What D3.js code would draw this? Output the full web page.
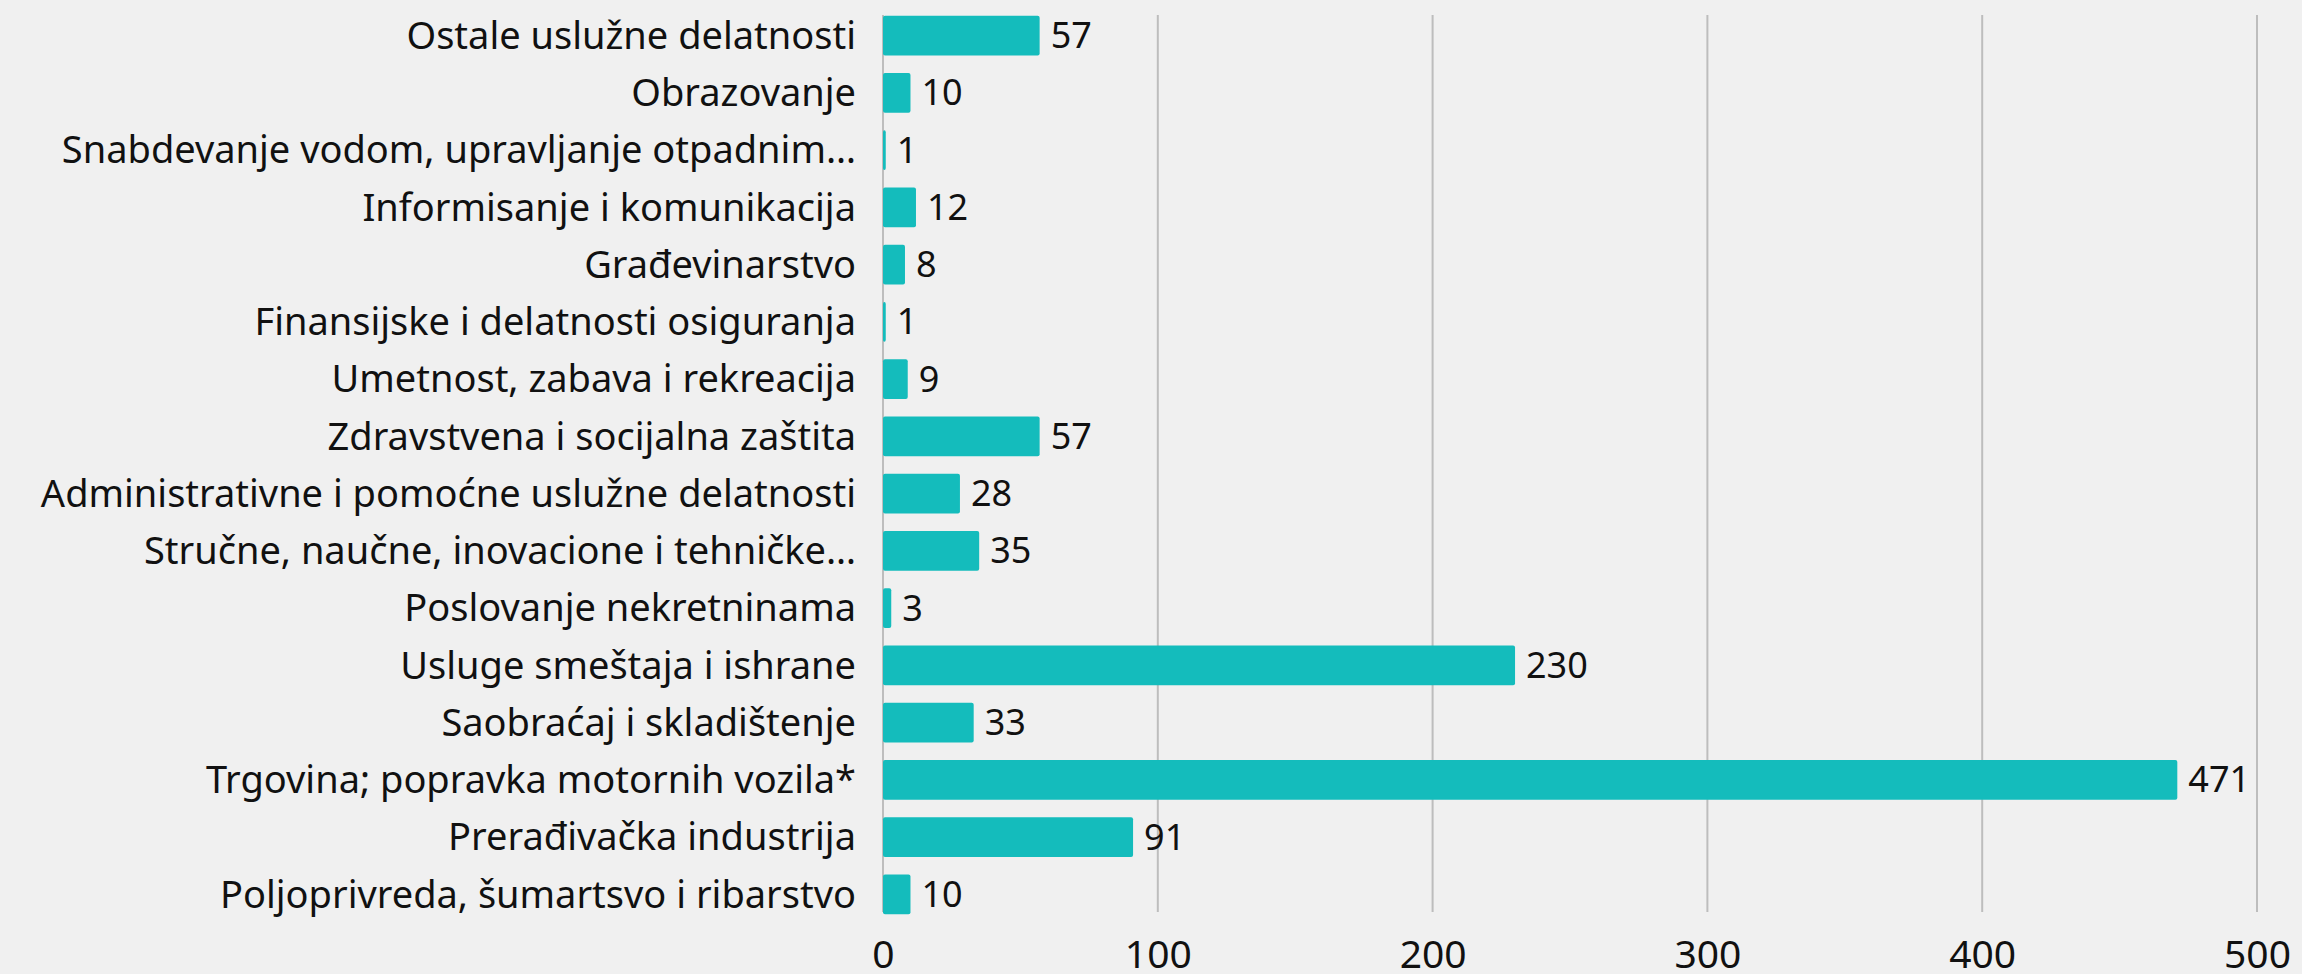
<!DOCTYPE html>
<html>
<head>
<meta charset="utf-8">
<script src="https://cdn.jsdelivr.net/npm/d3@7"></script>
<style>
  body { margin: 0; background: #f0f0f0; }
  text { font-family: "Noto Sans", sans-serif; fill: #111; }
</style>
</head>
<body>
<div id="chart-container"></div>
<script>
// Categories, top to bottom
const categories = [
    "Ostale uslužne delatnosti",
    "Obrazovanje",
    "Snabdevanje vodom, upravljanje otpadnim…",
    "Informisanje i komunikacija",
    "Građevinarstvo",
    "Finansijske i delatnosti osiguranja",
    "Umetnost, zabava i rekreacija",
    "Zdravstvena i socijalna zaštita",
    "Administrativne i pomoćne uslužne delatnosti",
    "Stručne, naučne, inovacione i tehničke…",
    "Poslovanje nekretninama",
    "Usluge smeštaja i ishrane",
    "Saobraćaj i skladištenje",
    "Trgovina; popravka motornih vozila*",
    "Prerađivačka industrija",
    "Poljoprivreda, šumartsvo i ribarstvo"
];

const values = [57, 10, 1, 12, 8, 1, 9, 57, 28, 35, 3, 230, 33, 471, 91, 10];

const xTicks = [0, 100, 200, 300, 400, 500];

const W = 2302, H = 974;
const plot = { left: 883, right: 2257, top: 7, bottom: 923, gridTop: 15, gridBottom: 912 };

function init() {
    const svg = d3.select("#chart-container")
        .append("svg")
        .attr("width", W)
        .attr("height", H);

    svg.append("rect")
        .attr("width", W)
        .attr("height", H)
        .attr("fill", "#f0f0f0");

    const xScale = d3.scaleLinear()
        .domain([0, 500])
        .range([plot.left, plot.right]);

    const yScale = d3.scaleBand()
        .domain(categories)
        .range([plot.top, plot.bottom])
        .paddingInner(0.31)
        .paddingOuter(0.155);

    // Vertical gridlines
    svg.append("g")
        .selectAll("line")
        .data(xTicks)
        .enter()
        .append("line")
        .attr("x1", d => xScale(d))
        .attr("x2", d => xScale(d))
        .attr("y1", plot.gridTop)
        .attr("y2", plot.gridBottom)
        .attr("stroke", "#bdbdbd")
        .attr("stroke-width", 2);

    // X axis labels
    const xAxis = d3.axisBottom(xScale)
        .tickValues(xTicks)
        .tickSize(0)
        .tickPadding(0)
        .tickFormat(d => d);

    const gx = svg.append("g")
        .attr("transform", `translate(0, ${plot.gridBottom})`)
        .call(xAxis);
    gx.select(".domain").remove();
    gx.selectAll("text")
        .attr("y", 56)
        .attr("dy", null)
        .style("font-size", "39px")
        .style("font-family", "'Noto Sans', sans-serif")
        .attr("fill", "#111");

    // Bars
    svg.selectAll("rect.bar")
        .data(values)
        .enter()
        .append("rect")
        .attr("class", "bar")
        .attr("x", xScale(0))
        .attr("y", (d, i) => yScale(categories[i]))
        .attr("width", d => xScale(d) - xScale(0))
        .attr("height", yScale.bandwidth())
        .attr("rx", 2)
        .attr("fill", "#14bcbc");

    // Category labels
    const yAxis = d3.axisLeft(yScale)
        .tickSize(0)
        .tickPadding(27);

    const gy = svg.append("g")
        .attr("transform", `translate(${plot.left}, 0)`)
        .call(yAxis);
    gy.select(".domain").remove();
    gy.selectAll("text")
        .attr("dy", "0.35em")
        .style("font-size", "38px")
        .style("font-family", "'Noto Sans', sans-serif")
        .attr("fill", "#111");

    // Value labels
    svg.selectAll("text.label")
        .data(values)
        .enter()
        .append("text")
        .attr("class", "label")
        .attr("x", d => xScale(d) + 11)
        .attr("y", (d, i) => yScale(categories[i]) + yScale.bandwidth() / 2)
        .attr("dy", "0.35em")
        .style("font-size", "36px")
        .text(d => d);
}

window.onload = init;
</script>
</body>
</html>
